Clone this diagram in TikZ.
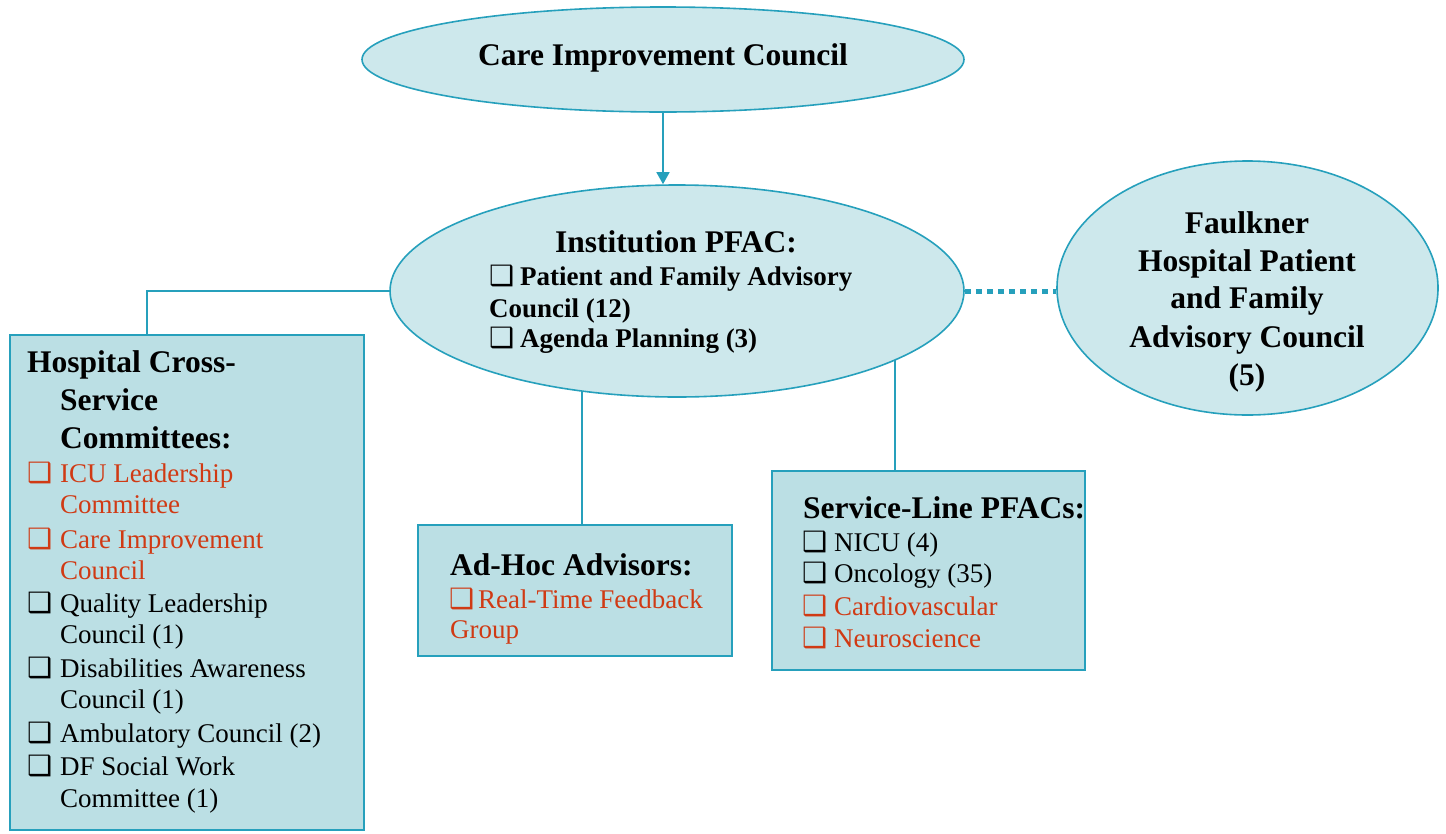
\documentclass[tikz,border=0pt]{standalone}
\usepackage{fontspec}
\setmainfont{Liberation Serif}
\newfontfamily\symfont{DejaVu Sans}
\usetikzlibrary{shapes.geometric,arrows.meta,backgrounds}

\definecolor{edge}{RGB}{38,160,188}
\definecolor{ellfill}{RGB}{205,232,236}
\definecolor{boxfill}{RGB}{187,223,228}
\definecolor{hottext}{RGB}{208,58,20}

% shadowed check box in front of list items
\newcommand\cbx{{\symfont\fontsize{28}{28}\selectfont ❑}}
\newcommand\itm[2][31pt]{\makebox[#1][l]{\cbx}#2}

\tikzset{
  ell/.style={ellipse, draw=edge, fill=ellfill, line width=1.6pt, inner sep=0pt},
  panel/.style={rectangle, draw=edge, fill=boxfill, line width=2pt, inner sep=0pt},
  txt/.style={anchor=base west, inner sep=0pt, font=\fontsize{27}{32}\selectfont},
  btxt/.style={txt, font=\fontsize{27}{32}\selectfont\bfseries},
  hd/.style={anchor=base west, inner sep=0pt, font=\fontsize{31.5}{38}\selectfont\bfseries},
  hdc/.style={hd, anchor=base},
  hot/.style={text=hottext},
  link/.style={draw=edge, line width=1.6pt},
  dotlink/.style={draw=edge, line width=5pt, dash pattern=on 6pt off 5pt},
}

\begin{document}
\begin{tikzpicture}[x=1pt,y=-1pt]
\useasboundingbox (0,0) rectangle (1446,833);

% ---- shapes ----
\node[ell, minimum width=602pt, minimum height=105pt] (cic) at (663,59.5) {};
\node[ell, minimum width=574pt, minimum height=212pt] (pfac) at (677,291) {};
\node[ell, minimum width=381pt, minimum height=254pt] (faulk) at (1247.5,288) {};
\node[panel, minimum width=354pt, minimum height=495pt] (cross) at (187,582.5) {};
\node[panel, minimum width=314pt, minimum height=131pt] (adhoc) at (575,590.5) {};
\node[panel, minimum width=313pt, minimum height=199pt] (svc) at (928.5,570.5) {};

\coordinate (crossjoin) at (147,335);
\coordinate (adhocjoin) at (582,525);
\coordinate (svcjoin) at (895,471);

% ---- connectors (behind the shapes) ----
\begin{pgfonlayer}{background}
  \draw[link, -{Triangle[length=12pt,width=13pt]}] (cic.south) -- (cic.south |- pfac.north);
  \draw[link] (pfac.center) -| (crossjoin);
  \draw[link] (adhocjoin) -- (adhocjoin |- pfac.center);
  \draw[link] (svcjoin) -- (svcjoin |- pfac.center);
\end{pgfonlayer}
\draw[dotlink] (pfac.east) -- (pfac.east -| faulk.west);

% ---- top council ----
\node[hdc] (cictitle) at (663,65) {Care Improvement Council};

% ---- institution PFAC ----
\node[hdc] (pfactitle) at (676,252) {Institution PFAC:};
\node[btxt] (pfac1) at (489,285) {\itm[31pt]{Patient and Family Advisory}};
\node[btxt] (pfac2) at (489,317) {Council (12)};
\node[btxt] (pfac3) at (489,347) {\itm[31pt]{Agenda Planning (3)}};

% ---- Faulkner ----
\node[hdc] (fk1) at (1247,233) {Faulkner};
\node[hdc] (fk2) at (1247,271) {Hospital Patient};
\node[hdc] (fk3) at (1247,308) {and Family};
\node[hdc] (fk4) at (1247,347) {Advisory Council};
\node[hdc] (fk5) at (1247,385) {(5)};

% ---- cross-service committees ----
\node[hd] (cr1) at (27,372) {Hospital Cross-};
\node[hd] (cr2) at (60,410) {Service};
\node[hd] (cr3) at (60,448) {Committees:};
\node[txt, hot] (cra) at (27,482) {\itm[33pt]{ICU Leadership}};
\node[txt, hot] (crb) at (60,513) {Committee};
\node[txt, hot] (crc) at (27,548) {\itm[33pt]{Care Improvement}};
\node[txt, hot] (crd) at (60,579) {Council};
\node[txt] (cre) at (27,612) {\itm[33pt]{Quality Leadership}};
\node[txt] (crf) at (60,643) {Council (1)};
\node[txt] (crg) at (27,677) {\itm[33pt]{Disabilities Awareness}};
\node[txt] (crh) at (60,708) {Council (1)};
\node[txt] (cri) at (27,742) {\itm[33pt]{Ambulatory Council (2)}};
\node[txt] (crj) at (27,775) {\itm[33pt]{DF Social Work}};
\node[txt] (crk) at (60,807) {Committee (1)};

% ---- ad-hoc advisors ----
\node[hd] (ah1) at (450,575) {Ad-Hoc Advisors:};
\node[txt, hot] (ah2) at (449,608) {\itm[29pt]{Real-Time Feedback}};
\node[txt, hot] (ah3) at (450,638) {Group};

% ---- service-line PFACs ----
\node[hd] (sv1) at (803,518) {Service-Line PFACs:};
\node[txt] (sv2) at (802,551) {\itm[32pt]{NICU (4)}};
\node[txt] (sv3) at (802,582) {\itm[32pt]{Oncology (35)}};
\node[txt, hot] (sv4) at (802,615) {\itm[32pt]{Cardiovascular}};
\node[txt, hot] (sv5) at (802,647) {\itm[32pt]{Neuroscience}};
\end{tikzpicture}
\end{document}
